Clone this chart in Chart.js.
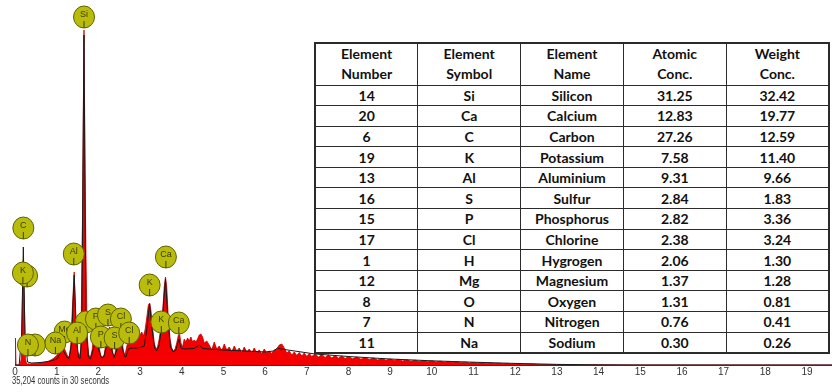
<!DOCTYPE html>
<html>
<head>
<meta charset="utf-8">
<script src="https://cdn.jsdelivr.net/npm/chart.js@4/dist/chart.umd.min.js"></script>
<style>
  html, body { margin: 0; padding: 0; background: #fff; }
  #wrap { position: relative; width: 832px; height: 392px; overflow: hidden; }
  #spec { position: absolute; left: 0; top: 0; }
  #conc {
    position: absolute; left: 314px; top: 42px; width: 516px; height: 311px;
    border-collapse: collapse; table-layout: fixed; background: #fff;
    font-family: Lato, "Open Sans", sans-serif; font-weight: 700; font-size: 14px; color: #111;
    border: 2px solid #2b2b2b;
  }
  #conc td, #conc th {
    border: 1.5px solid #2b2b2b; text-align: center; padding: 0; font-weight: 700;
    line-height: 15px; overflow: hidden;
  }
  #conc th { line-height: 20px; }
  #conc tr.h { height: 42px; }
  #conc tr.r { height: 20.6px; }
</style>
</head>
<body>
<div id="wrap">
  <canvas id="spec" width="832" height="392"></canvas>
  <table id="conc"></table>
</div>
<script>
// EDS spectrum: energy (keV) and counts of the measured spectrum
const spectrumKeV = [0,0.005,0.015,0.025,0.12,0.15,0.175,0.2,0.225,0.25,0.28,
  0.32,0.36,0.4,0.44,0.48,0.52,0.56,0.6,0.64,0.68,0.72,0.76,0.8,0.84,0.88,0.92,0.96,
  1.0,1.05,1.1,1.15,1.2,1.26,1.3,1.34,1.38,1.42,1.46,1.5,1.54,1.58,1.62,1.655,1.69,1.73,1.77,
  1.81,1.85,1.89,1.93,1.97,2.01,2.06,2.1,2.14,2.19,2.23,2.27,2.31,2.35,2.39,2.43,2.47,2.51,2.55,
  2.6,2.64,2.68,2.72,2.76,2.8,2.84,2.88,2.92,2.96,3.0,3.04,3.08,3.12,3.16,3.2,3.23,3.26,3.3,
  3.34,3.38,3.42,3.46,3.5,3.54,3.58,3.61,3.64,3.68,3.72,3.76,3.8,3.84,3.88,3.92,3.95,3.98,
  4.02,4.06,4.1,4.14,4.18,4.22,4.26,4.3,4.34,4.38,4.42,4.46,4.5,4.54,
  4.6,4.66,4.72,4.78,4.84,4.9,4.96,5.02,5.08,5.14,5.2,5.26,5.32,5.38,5.44,5.5,5.56,5.62,5.68,
  5.74,5.8,5.86,5.92,5.98,6.04,6.1,6.16,6.22,6.28,6.34,6.4,6.46,6.52,6.58,6.64,6.7,6.76,6.82,
  6.88,6.94,7.0,7.06,7.12,7.2,7.28,7.36,7.44,7.52,7.6,7.68,7.76,7.84,7.92,8.0,8.1,8.2,8.3,8.4,
  8.5,8.6,8.7,8.8,8.9,9.0,9.1,9.2,9.3,9.4,9.5,9.6,9.7,9.8,9.9,10.0,10.1,10.2,10.3,10.4,10.5,
  10.6,10.7,10.8,10.9,11.0,11.1,11.2,11.3,11.4,11.5,11.6,11.7,11.8,11.9,12.0,12.2,12.4,12.6,
  12.8,13.0,13.3,13.6,14.0,14.5,14.8,19.6];
const spectrumCounts = [0,0,270,0,0,60,600,1050,600,60,10,
  12,10,14,12,16,15,18,20,22,25,28,32,38,45,55,65,80,
  95,130,170,200,150,90,80,200,600,930,450,150,80,150,1500,3350,1500,300,100,
  80,150,300,380,330,200,90,80,100,250,340,380,260,110,90,200,300,360,320,
  140,100,180,260,290,270,300,270,310,280,300,330,290,350,470,600,620,550,380,
  220,160,180,260,380,500,780,880,780,450,260,170,140,160,220,300,310,220,
  180,260,230,270,240,280,230,250,230,260,300,310,280,220,240,
  200,150,230,160,190,140,210,150,180,130,190,140,170,125,180,130,160,120,170,
  125,150,110,160,120,140,115,150,160,200,210,170,120,140,100,130,95,125,90,
  120,85,115,85,110,80,105,75,100,70,95,68,90,65,85,62,80,58,75,55,
  70,50,64,48,60,45,56,40,52,38,48,35,44,32,42,30,38,27,35,24,32,
  22,28,20,26,18,23,16,20,14,17,12,15,10,13,8,9,5,6,
  3,3,1,2,1,1,0,0];

// fitted spectrum curve
const fitKeV = [0,0.1,0.16,0.2,0.24,0.3,0.4,0.6,0.8,0.9,1.0,1.05,1.1,1.15,1.2,1.26,1.3,1.35,1.42,
  1.48,1.52,1.56,1.6,1.655,1.7,1.76,1.81,1.86,1.92,1.97,2.03,2.08,2.13,2.2,2.26,2.32,2.38,
  2.44,2.5,2.56,2.62,2.66,2.72,2.8,2.9,3.0,3.1,3.16,3.23,3.29,3.35,3.4,3.46,3.52,3.61,3.67,
  3.73,3.8,3.86,3.93,3.98,4.05,4.3,4.42,4.5,5,5.5,6,6.2,6.3,6.38,7.2,8,9,10,11,12,13,14,15,19.6];
const fitCounts = [0,0,300,1180,300,30,20,25,35,45,60,90,130,150,110,70,65,200,900,
  250,80,60,300,3300,400,80,60,130,230,220,120,70,80,200,230,150,75,
  150,210,200,90,80,160,170,170,175,190,350,610,350,170,140,200,400,860,450,
  180,130,150,260,170,160,165,200,165,150,140,130,140,170,160,110,85,60,42,28,16,6,2,0,0];

// element line markers: label, energy (keV), marker height (counts)
const peakLabels = ['', 'K', '', 'N', 'Mg', 'Na', '', 'Al', 'P', 'S', 'Cl', 'P', 'S', 'Cl',
  'C', 'Al', 'K', 'K', 'Ca', 'Ca', 'Si'];
const peakKeV = [0.29, 0.19, 0.48, 0.31, 1.19, 0.97, 1.70, 1.49, 1.94, 2.23, 2.54, 2.06, 2.39, 2.74,
  0.20, 1.41, 3.23, 3.51, 3.62, 3.93, 1.656];
const peakCounts = [890, 920, 200, 200, 330, 220, 430, 320, 460, 500, 460, 280, 270, 320,
  1370, 1110, 800, 430, 1080, 420, 3480];

// quantification table
const tableHeader = [['Element', 'Number'], ['Element', 'Symbol'], ['Element', 'Name'], ['Atomic', 'Conc.'], ['Weight', 'Conc.']];
const elementNumbers = [14, 20, 6, 19, 13, 16, 15, 17, 1, 12, 8, 7, 11];
const elementSymbols = ['Si', 'Ca', 'C', 'K', 'Al', 'S', 'P', 'Cl', 'H', 'Mg', 'O', 'N', 'Na'];
const elementNames = ['Silicon', 'Calcium', 'Carbon', 'Potassium', 'Aluminium', 'Sulfur', 'Phosphorus',
  'Chlorine', 'Hygrogen', 'Magnesium', 'Oxygen', 'Nitrogen', 'Sodium'];
const atomicConc = ['31.25', '12.83', '27.26', '7.58', '9.31', '2.84', '2.82', '2.38', '2.06', '1.37', '1.31', '0.76', '0.30'];
const weightConc = ['32.42', '19.77', '12.59', '11.40', '9.66', '1.83', '3.36', '3.24', '1.30', '1.28', '0.81', '0.41', '0.26'];

const acquisitionNote = '35,204 counts in 30 seconds';

// build the table
(function buildTable() {
  const t = document.getElementById('conc');
  const colgroup = document.createElement('colgroup');
  for (let i = 0; i < 5; i++) { const c = document.createElement('col'); c.style.width = '20%'; colgroup.appendChild(c); }
  t.appendChild(colgroup);
  const hr = document.createElement('tr');
  hr.className = 'h';
  tableHeader.forEach(h => { const th = document.createElement('th'); th.innerHTML = h[0] + '<br>' + h[1]; hr.appendChild(th); });
  t.appendChild(hr);
  elementNumbers.forEach((n, i) => {
    const tr = document.createElement('tr');
    tr.className = 'r';
    [n, elementSymbols[i], elementNames[i], atomicConc[i], weightConc[i]].forEach(v => {
      const td = document.createElement('td'); td.textContent = v; tr.appendChild(td);
    });
    t.appendChild(tr);
  });
})();

const toPoints = (xs, ys) => xs.map((x, i) => ({ x: x, y: ys[i] }));

// element markers drawn as labelled ellipses above their lines
const markerPlugin = {
  id: 'peakMarkers',
  afterDatasetsDraw(chart) {
    const ctx = chart.ctx, xs = chart.scales.x, ys = chart.scales.y;
    ctx.save();
    peakLabels.forEach((lab, i) => {
      const cx = xs.getPixelForValue(peakKeV[i]);
      const cy = ys.getPixelForValue(peakCounts[i]);
      ctx.beginPath();
      ctx.ellipse(cx, cy, 10.5, 11, 0, 0, Math.PI * 2);
      ctx.fillStyle = 'rgb(186,188,12)';
      ctx.fill();
      ctx.lineWidth = 1;
      ctx.strokeStyle = 'rgb(96,98,0)';
      ctx.stroke();
      ctx.beginPath();
      ctx.moveTo(cx, cy + 4);
      ctx.lineTo(cx, cy + 11);
      ctx.strokeStyle = 'rgb(60,60,20)';
      ctx.stroke();
      if (lab) {
        ctx.fillStyle = '#3a3a10';
        ctx.font = '9px "Liberation Sans", Arial, sans-serif';
        ctx.textAlign = 'center';
        ctx.textBaseline = 'middle';
        ctx.fillText(lab, cx, cy - 2);
      }
    });
    // acquisition note under the energy axis
    ctx.font = '11px "Liberation Sans", Arial, sans-serif';
    const w = ctx.measureText(acquisitionNote).width;
    ctx.translate(12, 381);
    ctx.scale(97 / w, 1);
    ctx.fillStyle = '#333';
    ctx.textAlign = 'left';
    ctx.textBaseline = 'middle';
    ctx.fillText(acquisitionNote, 0, 0);
    ctx.restore();
  }
};

new Chart(document.getElementById('spec'), {
  type: 'line',
  data: {
    datasets: [
      {
        data: toPoints(fitKeV, fitCounts),
        borderColor: '#1a1a1a', borderWidth: 1, pointRadius: 0, fill: false, tension: 0, order: 0
      },
      {
        data: toPoints(spectrumKeV, spectrumCounts),
        borderColor: 'rgb(190,0,0)', borderWidth: 0.8, backgroundColor: 'rgb(245,0,0)',
        pointRadius: 0, fill: 'origin', tension: 0, order: 1
      }
    ]
  },
  options: {
    responsive: false,
    animation: false,
    layout: { padding: { left: 15, right: 0, top: 5, bottom: 0 } },
    plugins: { legend: { display: false }, tooltip: { enabled: false } },
    scales: {
      x: {
        type: 'linear', min: 0, max: 19.6,
        grid: { display: false, drawTicks: false },
        border: { display: true, color: '#333', width: 1 },
        ticks: {
          stepSize: 1, includeBounds: false, autoSkip: false, maxRotation: 0, padding: 1,
          color: '#333', font: { size: 10, family: '"Liberation Sans Narrow", "Liberation Sans", Arial, sans-serif' },
          callback: v => Number.isInteger(v) ? String(v) : ''
        },
        afterFit(scale) { scale.height = 27; }
      },
      y: { display: false, min: 0, max: 3600 }
    }
  },
  plugins: [markerPlugin]
});
</script>
</body>
</html>
